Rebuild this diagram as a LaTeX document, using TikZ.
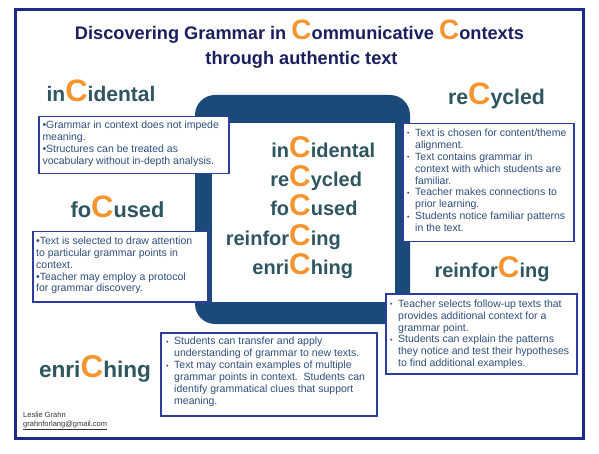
\documentclass[tikz,border=0pt]{standalone}
\usepackage{fontspec}
\setmainfont{Liberation Sans}
\definecolor{framec}{HTML}{1C2A8C}
\definecolor{boxc}{HTML}{2E3C9E}
\definecolor{boxtext}{HTML}{2F4E7C}
\definecolor{labelc}{HTML}{2E5560}
\definecolor{orangec}{HTML}{F5952F}
\definecolor{cblue}{HTML}{1B4A7A}
\definecolor{titlec}{HTML}{1A1F5E}
\newcommand\bigC{{\fontsize{30}{30}\selectfont\color{orangec}C}}
\newcommand\tC{{\fontsize{28}{28}\selectfont\color{orangec}C}}
% \lab{size}{Csize}{prefix}{suffix}
\newcommand\lab[4]{{\fontsize{#1}{#1}\selectfont #3{\fontsize{#2}{#2}\selectfont\color{orangec}C}#4}}
\newcommand\bul{\makebox[8pt][l]{\fontsize{7}{7}\selectfont\raisebox{0.6pt}{•}}}
\newcommand\ind{\hspace*{8pt}}
\begin{document}
\begin{tikzpicture}[x=1pt,y=-1pt,
  titlestyle/.style={font=\bfseries\fontsize{18.2}{18.2}\selectfont, text=titlec, inner sep=0},
  label/.style={font=\bfseries\fontsize{20}{20}\selectfont, text=labelc, inner sep=0},
  boxstyle/.style={draw=boxc, line width=1.5pt, fill=white, anchor=north west, inner sep=0},
  btext/.style={font=\fontsize{10.5}{11.9}\selectfont, text=boxtext, align=left, inner sep=0, anchor=base west},
  foot/.style={font=\fontsize{7.5}{9}\selectfont, text=black!80, inner sep=0, anchor=base west}]
\useasboundingbox (0,0) rectangle (599,454);
\fill[white] (0,0) rectangle (599,454);
% outer frame
\draw[framec, line width=3pt] (15,9.5) rectangle (583.5,438.5);
% central square
\fill[cblue, rounded corners=20pt] (195,95) rectangle (410,324);
\fill[white] (212,123) rectangle (395,302);
% title
\node[titlestyle, anchor=base] (t1) at (299.5,40) {Discovering Grammar in \tC ommunicative \tC ontexts};
\node[titlestyle, anchor=base] (t2) at (301.5,65) {through authentic text};
% centre words
\node[label, anchor=base] (c1) at (300,158) {\llap{in}\bigC\rlap{idental}};
\node[label, anchor=base] (c2) at (300,187) {\llap{re}\bigC\rlap{ycled}};
\node[label, anchor=base] (c3) at (300,216) {\llap{fo}\bigC\rlap{used}};
\node[label, anchor=base] (c4) at (300,245) {\llap{reinfor}\bigC\rlap{ing}};
\node[label, anchor=base] (c5) at (300,274) {\llap{enri}\bigC\rlap{hing}};
% side labels
\node[label, anchor=base] (l1) at (101,101.5) {\lab{21}{31}{in}{idental}};
\node[label, anchor=base] (l2) at (496.5,105) {\lab{21.3}{31}{re}{ycled}};
\node[label, anchor=base] (l3) at (117.5,218) {\lab{21.8}{31}{fo}{used}};
\node[label, anchor=base] (l4) at (492,277) {\lab{20}{30}{reinfor}{ing}};
\node[label, anchor=base] (l5) at (95,377) {\lab{22.6}{31.5}{enri}{hing}};
% boxes
\node[boxstyle, minimum width=190pt, minimum height=57pt] (b1) at (38,116) {};
\node[btext, font=\fontsize{10.5}{12.1}\selectfont] (b1t) at (42.3,164.6) {•Grammar in context does not impede\\meaning.\\•Structures can be treated as\\vocabulary without in-depth analysis.};
\node[boxstyle, minimum width=171pt, minimum height=118pt] (b2) at (402,123) {};
\node[btext] (b2t) at (407,231.7) {\bul Text is chosen for content/theme\\\ind alignment.\\\bul Text contains grammar in\\\ind context with which students are\\\ind familiar.\\\bul Teacher makes connections to\\\ind prior learning.\\\bul Students notice familiar patterns\\\ind in the text.};
\node[boxstyle, minimum width=175pt, minimum height=70pt] (b3) at (32,231) {};
\node[btext, font=\fontsize{10.5}{11.7}\selectfont] (b3t) at (36,291.7) {•Text is selected to draw attention\\to particular grammar points in\\context.\\•Teacher may employ a protocol\\for grammar discovery.};
\node[boxstyle, minimum width=191pt, minimum height=80pt] (b4) at (385,293) {};
\node[btext] (b4t) at (390,366.7) {\bul Teacher selects follow-up texts that\\\ind provides additional context for a\\\ind grammar point.\\\bul Students can explain the patterns\\\ind they notice and test their hypotheses\\\ind to find additional examples.};
\node[boxstyle, minimum width=216pt, minimum height=83pt] (b5) at (160,332) {};
\node[btext] (b5t) at (166,404.3) {\bul Students can transfer and apply\\\ind understanding of grammar to new texts.\\\bul Text may contain examples of multiple\\\ind grammar points in context.\ \ Students can\\\ind identify grammatical clues that support\\\ind meaning.};
% footer
\node[foot] (f1) at (23,417) {Leslie Grahn};
\node[foot] (f2) at (23,426) {\underline{grahnforlang@gmail.com}};
\end{tikzpicture}
\end{document}
